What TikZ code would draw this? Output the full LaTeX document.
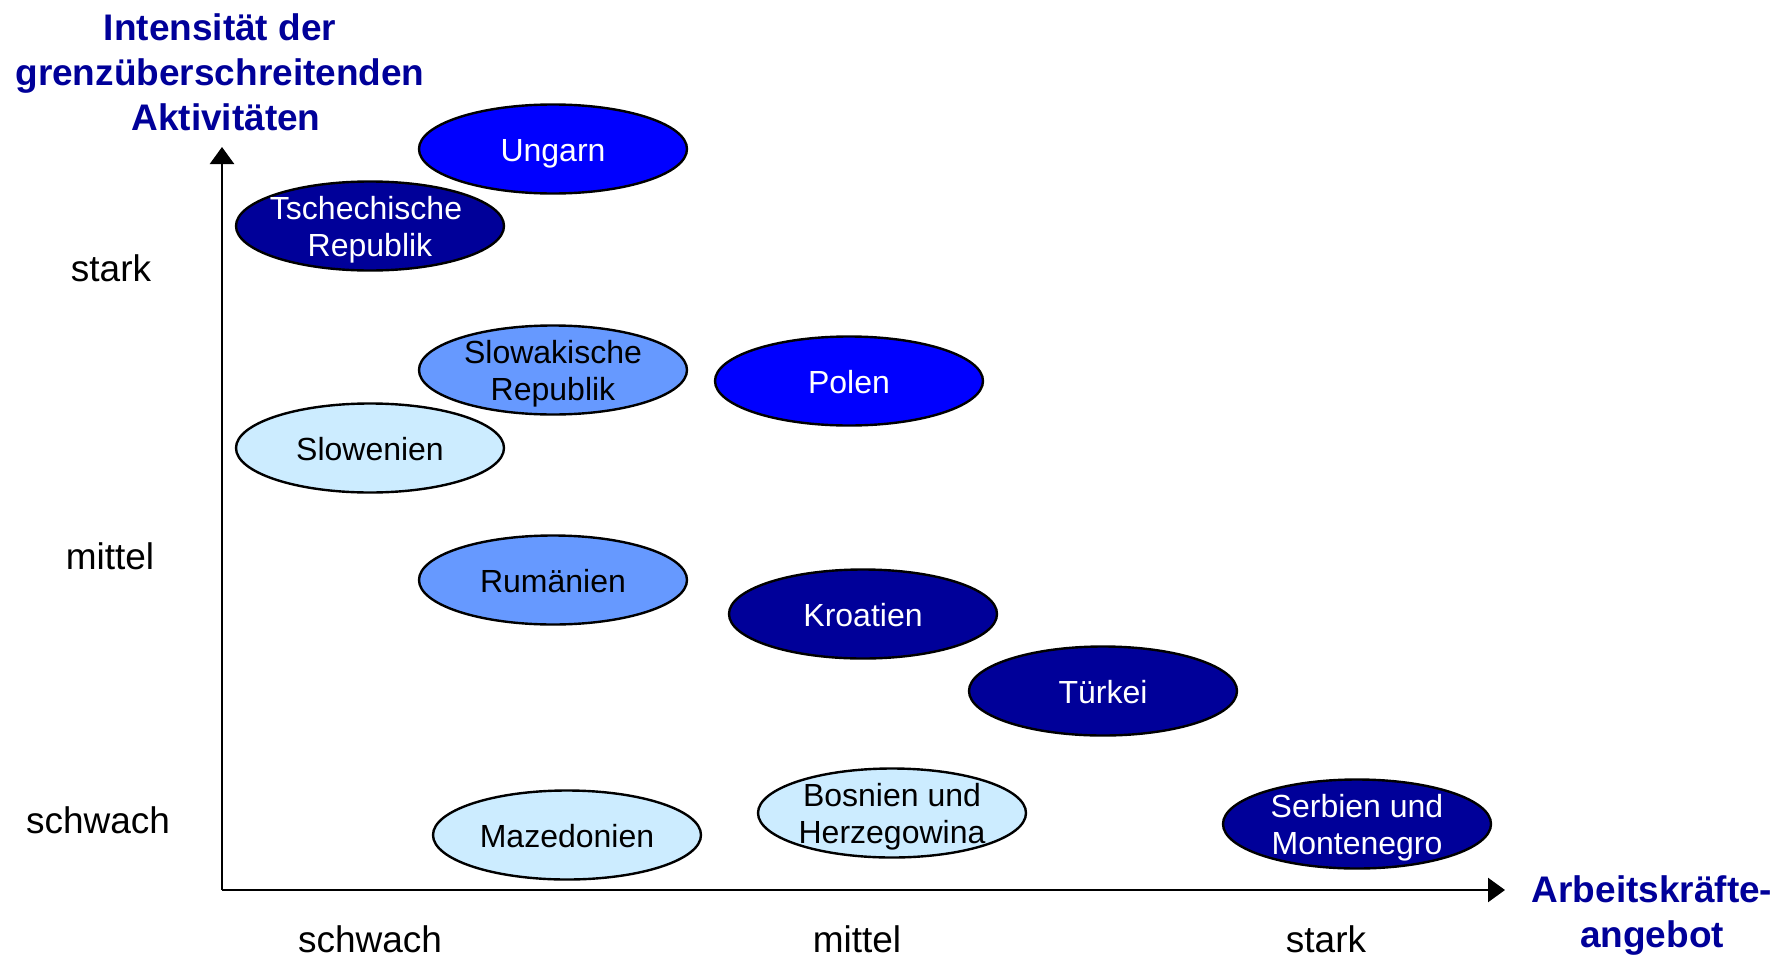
\documentclass[tikz,border=0pt]{standalone}
\usepackage{fontspec}
\setmainfont{Liberation Sans}
\usetikzlibrary{shapes.geometric,arrows.meta}
\definecolor{navy}{HTML}{000099}
\definecolor{bright}{HTML}{0000FF}
\definecolor{mid}{HTML}{6699FF}
\definecolor{pale}{HTML}{CCECFF}
\tikzset{
  country/.style={ellipse, draw=black, line width=2.4pt, minimum width=268pt, minimum height=89pt, inner sep=0pt},
  ctext/.style={align=center, font=\fontsize{32}{37}\selectfont, inner sep=0pt, yshift=-5pt},
  dark/.style={country, fill=navy, label={[ctext, text=white]center:\strut#1\strut}},
  blue/.style={country, fill=bright, label={[ctext, text=white]center:\strut#1\strut}},
  medium/.style={country, fill=mid, label={[ctext, text=black]center:\strut#1\strut}},
  light/.style={country, fill=pale, label={[ctext, text=black]center:\strut#1\strut}},
  axislabel/.style={font=\fontsize{37}{44}\selectfont, inner sep=0pt},
  axistitle/.style={font=\fontsize{37}{45}\selectfont\bfseries, text=navy, align=center, inner sep=0pt},
  axisline/.style={line width=2.4pt, -{Triangle[length=17pt,width=24pt]}}
}
\begin{document}
\begin{tikzpicture}[x=1pt,y=-1pt]
\useasboundingbox (0,0) rectangle (1774,958);
% axes
\coordinate (O) at (222,890);
\coordinate (ytip) at (222,147);
\coordinate (xtip) at (1505,890);
\draw[axisline] (O) -- (ytip);
\draw[axisline] (O) -- (xtip);
% axis titles
\node[axistitle] (ytitle) at (220,72) {Intensität der\\grenzüberschreitenden\\\hspace*{12pt}Aktivitäten};
\node[axistitle] (xtitle) at (1652,916) {Arbeitskräfte-\\angebot};
% axis labels
\node[axislabel] (ystark) at (111,268) {stark};
\node[axislabel] (ymittel) at (110,556) {mittel};
\node[axislabel] (yschwach) at (98,820) {schwach};
\node[axislabel] (xschwach) at (370,939) {schwach};
\node[axislabel] (xmittel) at (857,939) {mittel};
\node[axislabel] (xstark) at (1326,939) {stark};
% countries
\node[blue={Ungarn}] (ungarn) at (553,149) {};
\node[dark={\hspace*{-8pt}Tschechische\\Republik}] (tschechien) at (370,226) {};
\node[medium={Slowakische\\Republik}] (slowakei) at (553,370) {};
\node[blue={Polen}] (polen) at (849,381) {};
\node[light={Slowenien}] (slowenien) at (370,448) {};
\node[medium={Rumänien}] (rumaenien) at (553,580) {};
\node[dark={Kroatien}] (kroatien) at (863,614) {};
\node[dark={Türkei}] (tuerkei) at (1103,691) {};
\node[light={Mazedonien}] (mazedonien) at (567,835) {};
\node[light={Bosnien und\\Herzegowina}] (bosnien) at (892,813) {};
\node[dark={Serbien und\\Montenegro}] (serbien) at (1357,824) {};
\end{tikzpicture}
\end{document}
